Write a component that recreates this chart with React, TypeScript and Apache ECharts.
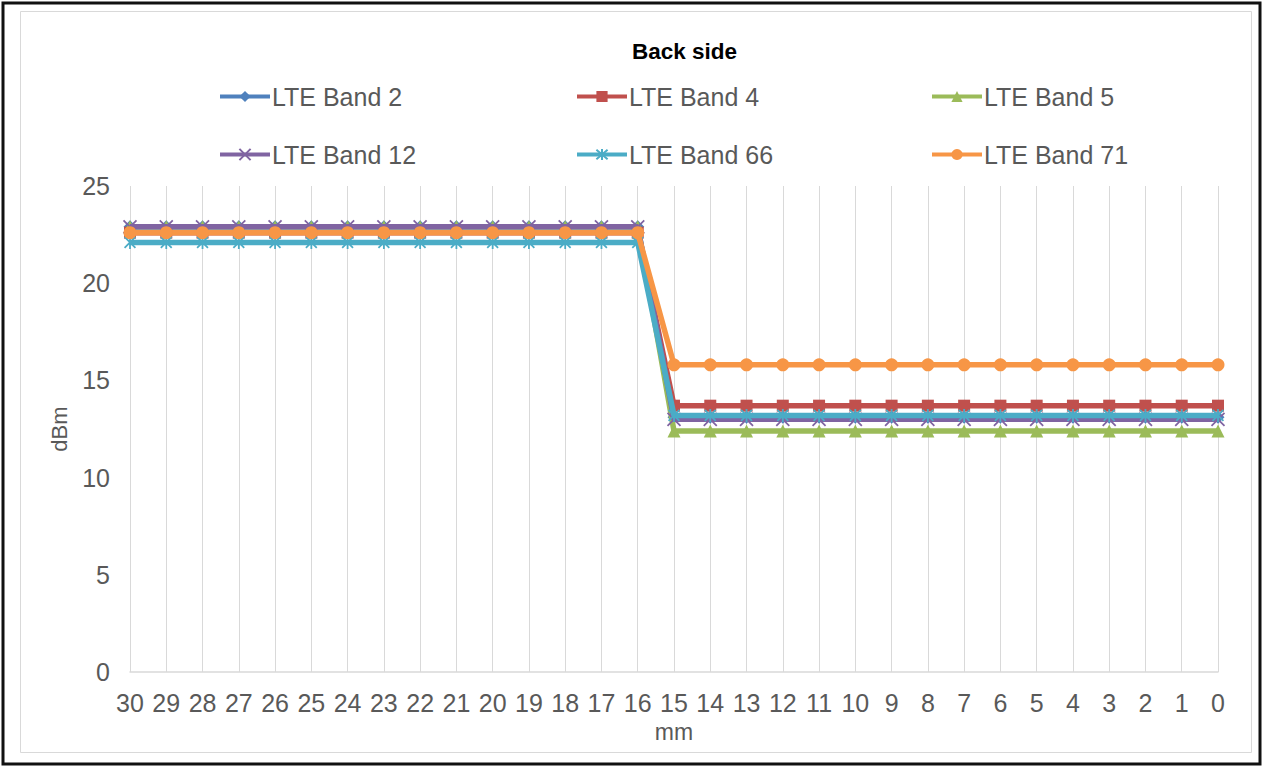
import React, { useEffect, useRef } from "react";
import * as echarts from "echarts";

const categories = ["30","29","28","27","26","25","24","23","22","21","20","19","18","17","16","15","14","13","12","11","10","9","8","7","6","5","4","3","2","1","0"];
const yTicks = [0, 5, 10, 15, 20, 25];

const band2 = [22.9,22.9,22.9,22.9,22.9,22.9,22.9,22.9,22.9,22.9,22.9,22.9,22.9,22.9,22.9,13.1,13.1,13.1,13.1,13.1,13.1,13.1,13.1,13.1,13.1,13.1,13.1,13.1,13.1,13.1,13.1];
const band4 = [22.6,22.6,22.6,22.6,22.6,22.6,22.6,22.6,22.6,22.6,22.6,22.6,22.6,22.6,22.6,13.7,13.7,13.7,13.7,13.7,13.7,13.7,13.7,13.7,13.7,13.7,13.7,13.7,13.7,13.7,13.7];
const band5 = [22.9,22.9,22.9,22.9,22.9,22.9,22.9,22.9,22.9,22.9,22.9,22.9,22.9,22.9,22.9,12.4,12.4,12.4,12.4,12.4,12.4,12.4,12.4,12.4,12.4,12.4,12.4,12.4,12.4,12.4,12.4];
const band12 = [22.9,22.9,22.9,22.9,22.9,22.9,22.9,22.9,22.9,22.9,22.9,22.9,22.9,22.9,22.9,13.0,13.0,13.0,13.0,13.0,13.0,13.0,13.0,13.0,13.0,13.0,13.0,13.0,13.0,13.0,13.0];
const band66 = [22.1,22.1,22.1,22.1,22.1,22.1,22.1,22.1,22.1,22.1,22.1,22.1,22.1,22.1,22.1,13.2,13.2,13.2,13.2,13.2,13.2,13.2,13.2,13.2,13.2,13.2,13.2,13.2,13.2,13.2,13.2];
const band71 = [22.6,22.6,22.6,22.6,22.6,22.6,22.6,22.6,22.6,22.6,22.6,22.6,22.6,22.6,22.6,15.8,15.8,15.8,15.8,15.8,15.8,15.8,15.8,15.8,15.8,15.8,15.8,15.8,15.8,15.8,15.8];

const seriesNames = ["LTE Band 2", "LTE Band 4", "LTE Band 5", "LTE Band 12", "LTE Band 66", "LTE Band 71"];
const seriesData = [band2, band4, band5, band12, band66, band71];
const colors = ["#4F81BD", "#C0504D", "#9BBB59", "#8064A2", "#4BACC6", "#F79646"];

const X_PATH = "path://M0,0L10,10M10,0L0,10";
const STAR_PATH = "path://M0,0L10,10M10,0L0,10M5,-1L5,11";
const symbols = ["diamond", "rect", "triangle", X_PATH, STAR_PATH, "circle"];
const symbolSizes = [13, 12, 13, 13, 13, 13];
const stroked = [false, false, false, true, true, false];

const legendPos = [
  { left: 218, top: 84 },
  { left: 575, top: 84 },
  { left: 930, top: 84 },
  { left: 218, top: 142 },
  { left: 575, top: 142 },
  { left: 930, top: 142 },
];

export default function App() {
  const ref = useRef<HTMLDivElement>(null);
  useEffect(() => {
    if (!ref.current) return;
    const chart = echarts.init(ref.current, undefined, { renderer: "svg" });
    const font = "'Liberation Sans', Arial, sans-serif";
    const series = seriesNames.map((name, i) => ({
      name,
      type: "line",
      data: seriesData[i],
      symbol: symbols[i],
      symbolSize: symbolSizes[i],
      symbolKeepAspect: true,
      lineStyle: { color: colors[i], width: 5.5 },
      itemStyle: stroked[i]
        ? { color: colors[i], borderColor: colors[i], borderWidth: 1.8 }
        : { color: colors[i] },
      emphasis: { disabled: true },
      z: 2 + i,
    }));
    const legends = seriesNames.map((name, i) => ({
      data: [name],
      left: legendPos[i].left,
      top: legendPos[i].top,
      orient: "horizontal",
      itemWidth: 50,
      itemHeight: 14,
      itemGap: 0,
      padding: 0,
      selectedMode: false,
      lineStyle: { width: 4 },
      textStyle: { fontFamily: font, fontSize: 25, color: "#595959", padding: [0, 0, 0, -3] },
    }));
    chart.setOption({
      animation: false,
      color: colors,
      title: {
        text: "Back side",
        left: 627,
        top: 35,
        textStyle: { fontFamily: font, fontSize: 22.5, fontWeight: "bold", color: "#000" },
      },
      legend: legends,
      grid: { left: 130, right: 46, top: 186, bottom: 97, containLabel: false },
      graphic: [
        { type: "rect", shape: { x: 3, y: 3, width: 1257, height: 761 }, style: { fill: "none", stroke: "#111", lineWidth: 3 }, silent: true },
        { type: "rect", shape: { x: 20.5, y: 11.5, width: 1231, height: 741 }, style: { fill: "none", stroke: "#d9d9d9", lineWidth: 1 }, silent: true },
      ],
      xAxis: {
        type: "category",
        data: categories,
        boundaryGap: false,
        name: "mm",
        nameLocation: "middle",
        nameGap: 48,
        nameTextStyle: { fontFamily: font, fontSize: 23, color: "#595959" },
        axisLine: { lineStyle: { color: "#d9d9d9", width: 1.5 } },
        axisTick: { show: false },
        axisLabel: { fontFamily: font, fontSize: 25, color: "#595959", margin: 18, interval: 0 },
        splitLine: { show: true, interval: 0, lineStyle: { color: "#d9d9d9", width: 1 } },
      },
      yAxis: {
        type: "value",
        min: yTicks[0],
        max: yTicks[yTicks.length - 1],
        interval: 5,
        name: "dBm",
        nameLocation: "middle",
        nameRotate: 90,
        nameGap: 60,
        nameTextStyle: { fontFamily: font, fontSize: 22, color: "#595959" },
        axisLine: { show: false },
        axisTick: { show: false },
        axisLabel: { fontFamily: font, fontSize: 25, color: "#595959", margin: 20 },
        splitLine: { show: false },
      },
      series,
    });
    return () => chart.dispose();
  }, []);
  return (
    <div
      ref={ref}
      style={{ position: "absolute", left: 0, top: 0, width: 1264, height: 769, background: "#fff" }}
    />
  );
}
